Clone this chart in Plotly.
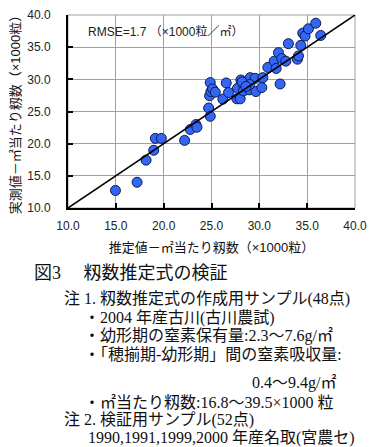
import plotly.graph_objects as go

# ---- data ----
estimated = [14.96, 17.22, 18.16, 18.96, 19.13, 19.76, 22.19, 22.78, 23.37, 23.48,
             24.70, 24.87, 24.87, 24.80, 24.94, 25.11, 25.39, 26.19, 26.54, 26.78,
             27.65, 28.00, 27.72, 28.07, 28.35, 28.35, 28.70, 28.98, 29.04, 29.57,
             29.64, 30.26, 30.37, 30.89, 31.55, 31.76, 32.00, 32.17, 32.35, 32.77,
             33.04, 33.98, 34.09, 34.33, 34.54, 34.78, 35.13, 35.90, 36.42, 28.20,
             29.00, 28.60]
measured = [12.72, 14.00, 17.44, 18.97, 20.82, 20.82, 20.51, 22.20, 22.97, 22.56,
            25.54, 24.26, 29.49, 27.44, 28.10, 28.51, 28.00, 26.92, 29.44, 27.95,
            26.97, 26.97, 28.62, 29.90, 29.13, 28.21, 29.38, 28.36, 30.26, 30.15,
            28.10, 28.72, 30.26, 31.85, 32.82, 31.69, 34.15, 29.28, 33.23, 32.82,
            35.54, 33.13, 33.64, 35.28, 37.18, 36.72, 37.85, 38.72, 36.82, 29.60,
            29.20, 28.90]

AXIS_MIN, AXIS_MAX = 10.0, 40.0
tick_vals = [10, 15, 20, 25, 30, 35, 40]
tick_text = ["10.0", "15.0", "20.0", "25.0", "30.0", "35.0", "40.0"]

x_title = "推定値－㎡当たり籾数（×1000粒）"
y_title = "実測値－㎡当たり籾数（×1000粒）"
rmse_text = "RMSE=1.7 （×1000粒／㎡）"

caption_title = "図3　 籾数推定式の検証"
caption_lines = [
    "注 1. 籾数推定式の作成用サンプル(48点)",
    "・2004 年産古川(古川農試)",
    "・幼形期の窒素保有量:2.3～7.6g/㎡",
    "・「穂揃期-幼形期」間の窒素吸収量:",
    "0.4～9.4g/㎡",
    "・㎡当たり籾数:16.8～39.5×1000 粒",
    "注 2. 検証用サンプル(52点)",
    "1990,1991,1999,2000 年産名取(宮農セ)",
]

# ---- layout geometry (page pixels; the page body adds an 8px margin) ----
OFF = 8
PAGE_W, PAGE_H = 375, 447
W, H = PAGE_W - OFF, PAGE_H - OFF
PLOT_L, PLOT_R, PLOT_T, PLOT_B = 68, 355, 14.5, 207.7   # page pixels of plot area
L = PLOT_L - OFF
R = PAGE_W - PLOT_R
T = PLOT_T - OFF
B = PAGE_H - PLOT_B

def py(y_pix):
    return (PLOT_B - y_pix) / (PLOT_B - PLOT_T)

def px(x_pix):
    return (x_pix - PLOT_L) / (PLOT_R - PLOT_L)

SANS = "Liberation Sans, Noto Sans CJK JP, sans-serif"
SERIF = "Liberation Serif, Noto Sans CJK JP, serif"

fig = go.Figure()
fig.add_trace(go.Scatter(
    x=estimated, y=measured, mode="markers",
    marker=dict(size=10, color="#3366f5", line=dict(color="#101a50", width=1)),
    showlegend=False, cliponaxis=False,
))

axis_common = dict(
    range=[AXIS_MIN, AXIS_MAX], tickvals=tick_vals, ticktext=tick_text,
    showgrid=True, gridcolor="#a0a0a0", gridwidth=1,
    showline=True, linecolor="black", linewidth=2,
    ticks="inside", ticklen=5, tickwidth=2, tickcolor="black",
    tickfont=dict(family=SANS, size=12, color="#222"),
    zeroline=False, mirror=False, ticklabeloverflow="allow",
)
fig.update_xaxes(**axis_common,
                 title=dict(text=x_title, font=dict(family=SANS, size=13, color="#111"), standoff=10),
                 ticklabelstandoff=6)
fig.update_yaxes(**axis_common,
                 title=dict(text=y_title, font=dict(family=SANS, size=13, color="#111"), standoff=5),
                 ticklabelstandoff=13)

shapes = [
    dict(type="rect", xref="paper", yref="paper", x0=0, y0=0, x1=1, y1=1,
         line=dict(color="#a0a0a0", width=1), layer="below"),
    dict(type="line", xref="x", yref="y", x0=AXIS_MIN, y0=AXIS_MIN, x1=AXIS_MAX, y1=AXIS_MAX,
         line=dict(color="black", width=1.5), layer="above"),
]

annotations = [
    dict(text=rmse_text, xref="paper", yref="paper", x=px(86), y=py(31),
         xanchor="left", yanchor="middle", showarrow=False,
         font=dict(family=SANS, size=12, color="#222")),
    dict(text=caption_title, xref="paper", yref="paper", x=px(32), y=py(273),
         xanchor="left", yanchor="middle", showarrow=False,
         font=dict(family=SERIF, size=18, color="#111")),
]
line_pos = [(62, 299), (82, 318), (82, 336), (82, 354), (250, 383), (82, 402), (62, 420), (86, 438)]
for txt, (xp, yp) in zip(caption_lines, line_pos):
    annotations.append(dict(text=txt, xref="paper", yref="paper", x=px(xp), y=py(yp),
                            xanchor="left", yanchor="middle", showarrow=False,
                            font=dict(family=SERIF, size=16, color="#111")))

fig.update_layout(
    width=W, height=H, margin=dict(l=L, r=R, t=T, b=B, autoexpand=False),
    paper_bgcolor="white", plot_bgcolor="white",
    shapes=shapes, annotations=annotations,
)

fig.write_html("out.html")
